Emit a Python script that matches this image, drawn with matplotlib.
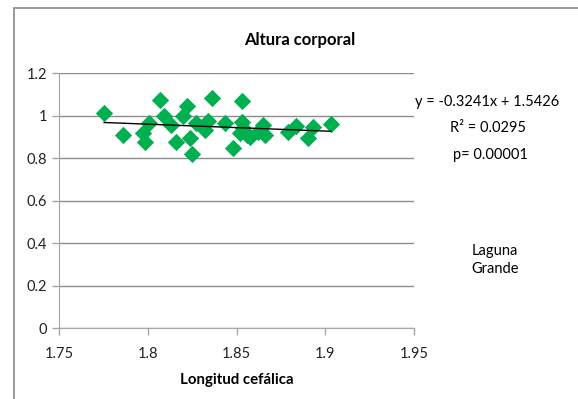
import matplotlib
matplotlib.use("Agg")
import matplotlib.pyplot as plt
from matplotlib.patches import Rectangle
from matplotlib.ticker import FuncFormatter

plt.rcParams["font.family"] = ["Lato", "DejaVu Sans"]

# longitud cefálica vs altura corporal (Laguna Grande)
longitud = [1.7754, 1.7859, 1.7972, 1.7985, 1.8009, 1.8069, 1.8092, 1.8131,
            1.8159, 1.8200, 1.8219, 1.8238, 1.8248, 1.8272, 1.8323, 1.8341,
            1.8360, 1.8435, 1.8529, 1.8529, 1.8482, 1.8520, 1.8557, 1.8576,
            1.8538, 1.8651, 1.8660, 1.8623, 1.8792, 1.8835, 1.8933, 1.8904,
            1.9031]
altura = [1.013, 0.908, 0.916, 0.874, 0.966, 1.073, 0.998, 0.955,
          0.877, 0.998, 1.045, 0.896, 0.817, 0.963, 0.932, 0.974,
          1.084, 0.963, 1.068, 0.968, 0.848, 0.916, 0.908, 0.900,
          0.940, 0.955, 0.908, 0.924, 0.924, 0.952, 0.947, 0.896,
          0.959]
slope, intercept = -0.3241, 1.5426
xticks = [1.75, 1.8, 1.85, 1.9, 1.95]
yticks = [0, 0.2, 0.4, 0.6, 0.8, 1.0, 1.2]

GREEN = "#00b050"
GRID = "#8c8c8c"

fig = plt.figure(figsize=(5.78, 3.99), dpi=100)
ax = fig.add_axes([0.1021, 0.1779, 0.6142, 0.6391])

# outer chart frame (cut off at right and bottom)
fig.patches.append(Rectangle((14 / 578, -0.2), 1.2, 0.2 + (1 - 8 / 399),
                             transform=fig.transFigure, fill=False,
                             edgecolor="#8a8a8a", lw=1.2))

ax.scatter(longitud, altura, marker="D", s=78, color=GREEN, lw=0, zorder=3)
x0, x1 = min(longitud), max(longitud)
ax.plot([x0, x1], [slope * x0 + intercept, slope * x1 + intercept],
        color="black", lw=1, zorder=4)

ax.set_xlim(1.75, 1.95)
ax.set_ylim(0, 1.2)
ax.set_xticks(xticks)
ax.set_yticks(yticks)
fmt = FuncFormatter(lambda v, p: f"{v:g}")
ax.xaxis.set_major_formatter(fmt)
ax.yaxis.set_major_formatter(fmt)
ax.yaxis.grid(True, color=GRID, lw=1)
ax.set_axisbelow(True)
for s in ("top", "right"):
    ax.spines[s].set_visible(False)
for s in ("left", "bottom"):
    ax.spines[s].set_color("#a6a6a6")
ax.tick_params(colors="#a6a6a6", labelcolor="#222222", labelsize=10.5,
               length=5, width=1)
ax.tick_params(axis="x", pad=9)

ax.set_xlabel("Longitud cefálica", fontsize=10.8, fontweight="bold", labelpad=8)
fig.text(300 / 578, 1 - 40 / 399, "Altura corporal", ha="center", va="center",
         fontsize=12, fontweight="bold")

fig.text(487 / 578, 1 - 102 / 399, f"y = {slope}x + {intercept}", ha="center",
         va="center", fontsize=10.5)
fig.text(488 / 578, 1 - 128 / 399, "R² = 0.0295", ha="center", va="center",
         fontsize=10.5)
fig.text(490 / 578, 1 - 155 / 399, "p= 0.00001", ha="center", va="center",
         fontsize=10.5)
fig.text(495 / 578, 1 - 260 / 399, "Laguna\nGrande", ha="center", va="center",
         fontsize=10.5, linespacing=1.4)

fig.savefig("out.png", dpi=100)
